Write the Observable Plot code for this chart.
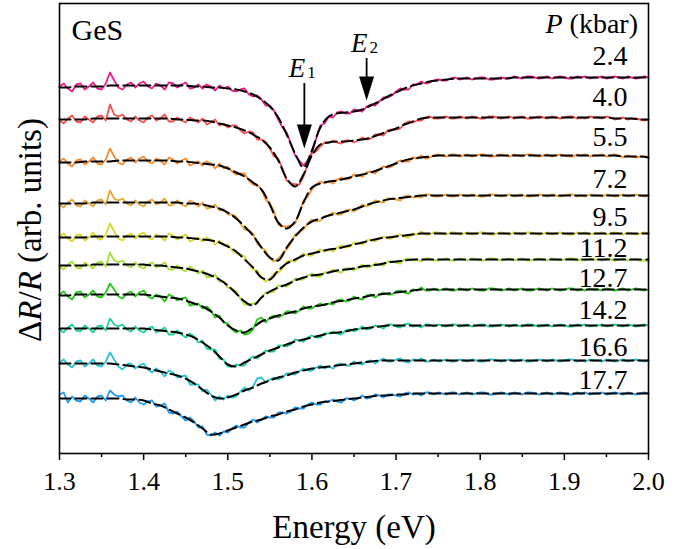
<!DOCTYPE html>
<html><head><meta charset="utf-8">
<script src="https://cdn.jsdelivr.net/npm/d3@7"></script>
<script src="https://cdn.jsdelivr.net/npm/@observablehq/plot@0.6"></script>
<style>html,body{margin:0;padding:0;background:#fff;} #chart svg{display:block;}</style>
</head><body><div id="chart"></div>
<script>
const FONT = "'Liberation Serif', 'DejaVu Serif', 'Noto Serif', 'Times New Roman', serif";

// energy grid of the fitted curves
const energy = [
1.30,1.31,1.32,1.33,1.34,1.35,1.36,1.37,1.38,1.39,
1.40,1.41,1.42,1.43,1.44,1.45,1.46,1.47,1.48,1.49,
1.50,1.51,1.52,1.53,1.54,1.55,1.56,1.57,1.58,1.59,
1.60,1.61,1.62,1.63,1.64,1.65,1.66,1.67,1.68,1.69,
1.70,1.71,1.72,1.73,1.74,1.75,1.76,1.77,1.78,1.79,
1.80,1.81,1.82,1.83,1.84,1.85,1.86,1.87,1.88,1.89,
1.90,1.91,1.92,1.93,1.94,1.95,1.96,1.97,1.98,1.99,
2.00];
// energy grid of the measured spectra
const expEnergy = [
1.300,1.305,1.310,1.315,1.320,1.325,1.330,1.335,1.340,1.345,1.350,1.355,1.360,1.365,1.370,1.375,1.380,1.385,1.390,1.395,
1.400,1.405,1.410,1.415,1.420,1.425,1.430,1.435,1.440,1.445,1.450,1.455,1.460,1.465,1.470,1.475,1.480,1.485,1.490,1.495,
1.500,1.505,1.510,1.515,1.520,1.525,1.530,1.535,1.540,1.545,1.550,1.555,1.560,1.565,1.570,1.575,1.580,1.585,1.590,1.595,
1.600,1.605,1.610,1.615,1.620,1.625,1.630,1.635,1.640,1.645,1.650,1.655,1.660,1.665,1.670,1.675,1.680,1.685,1.690,1.695,
1.700,1.705,1.710,1.715,1.720,1.725,1.730,1.735,1.740,1.745,1.750,1.755,1.760,1.765,1.770,1.775,1.780,1.785,1.790,1.795,
1.800,1.805,1.810,1.815,1.820,1.825,1.830,1.835,1.840,1.845,1.850,1.855,1.860,1.865,1.870,1.875,1.880,1.885,1.890,1.895,
1.900,1.905,1.910,1.915,1.920,1.925,1.930,1.935,1.940,1.945,1.950,1.955,1.960,1.965,1.970,1.975,1.980,1.985,1.990,1.995,
2.000];

const pressures = ["2.4","4.0","5.5","7.2","9.5","11.2","12.7","14.2","16.6","17.7"];
const colors = ["#EE1C8A","#F9504C","#F98A2E","#E9A735","#DCD52B","#A9DE3B","#26C81C","#1FD39B","#26C6D2","#1E9CF0"];
const offsets = [376, 336, 298, 258, 220, 194, 164, 128, 93, 60];
const labelLift = [13, 12, 10, 8, 8, 3, 3, 7, 5, 5];

const majorTicks = [1.3,1.4,1.5,1.6,1.7,1.8,1.9,2.0];
const minorTicks = [1.35,1.45,1.55,1.65,1.75,1.85,1.95];

const arrowNames = ["1","2"];
const arrowEnergy = [1.591, 1.665];
const arrowTop = [370, 395];
const arrowTip = [305, 353];

// measured spectra (ΔR/R, arb. units, relative to each curve's offset)
const exp24 = [
-9,-6,-11,-14,-7,-6,-12,-9,-5,-11,-12,-6,5,-3,-10,-12,-7,-5,-10,-6,
-4,-9,-11,-6,-8,-12,-5,-6,-10,-7,-5,-11,-10,-7,-11,-7,-9,-13,-8,-11,
-9,-13,-14,-12,-11,-17,-19,-18,-22,-28,-28,-33,-42,-50,-55,-66,-78,-83,-88,-83,
-75,-61,-48,-46,-39,-40,-35,-34,-36,-36,-32,-33,-34,-29,-27,-28,-24,-20,-20,-18,
-14,-11,-12,-12,-7,-7,-4,-6,-5,-3,-2,-3,-3,-1,0,-2,-1,0,-2,-1,
0,0,-2,-2,-1,0,-1,-1,1,0,-1,1,1,0,-1,0,1,-1,0,1,
0,-1,-1,1,0,1,-1,0,0,1,-1,0,1,0,-1,1,0,-1,0,1,
0];
const exp40 = [
-3,-6,-1,2,-4,-5,1,-2,-5,1,2,-3,13,3,1,3,-2,-4,1,-3,
-5,0,2,-3,-1,3,-4,-4,0,-3,-5,0,-2,-5,-1,-7,-5,-2,-8,-6,
-10,-8,-8,-13,-16,-14,-15,-22,-22,-24,-31,-39,-41,-51,-63,-66,-67,-67,-59,-47,
-36,-34,-29,-25,-25,-23,-25,-26,-23,-23,-25,-23,-20,-22,-21,-17,-17,-18,-13,-12,
-12,-11,-6,-4,-5,-3,-3,0,1,-1,-1,0,1,-1,-1,1,0,-1,1,0,
-1,-1,1,1,0,-1,0,1,-1,0,1,-1,-1,0,1,0,-1,1,0,-1,
0,1,1,-1,0,-1,1,0,0,-1,1,0,-2,-1,0,-2,-1,-1,-2,-3,
-2];
const exp55 = [
-6,-3,-8,-11,-5,-4,-9,-6,-2,-8,-9,-4,7,-1,-7,-9,-4,-2,-7,-3,
-1,-6,-8,-3,-5,-9,-2,-4,-8,-5,-3,-10,-8,-6,-10,-6,-8,-13,-8,-13,
-11,-16,-19,-18,-18,-25,-29,-29,-34,-44,-48,-56,-69,-71,-71,-70,-68,-57,-45,-41,
-34,-29,-26,-28,-26,-28,-24,-22,-24,-23,-19,-20,-21,-17,-16,-18,-14,-11,-12,-11,
-7,-5,-6,-6,-2,-3,0,-3,-2,0,1,0,-1,1,1,-1,0,1,-1,0,
1,1,-1,-1,0,1,0,-1,1,0,-1,1,1,0,-1,0,1,-1,0,1,
0,-1,-1,1,0,1,-1,0,0,1,-1,0,1,0,-2,0,-1,-2,-1,-1,
-2];
const exp72 = [
-9,-12,-7,-4,-10,-11,-5,-8,-11,-5,-4,-9,5,-3,-5,-3,-8,-10,-5,-9,
-11,-6,-4,-9,-7,-3,-10,-9,-5,-9,-11,-5,-7,-11,-7,-13,-12,-9,-15,-14,
-19,-19,-21,-28,-34,-35,-38,-48,-52,-55,-63,-66,-63,-58,-54,-48,-39,-37,-34,-28,
-24,-26,-25,-21,-20,-17,-19,-19,-15,-14,-16,-13,-9,-11,-9,-5,-6,-7,-3,-3,
-4,-5,-1,0,-2,-1,-2,1,1,-1,-1,0,1,-1,-1,1,0,-1,1,0,
-1,-1,1,1,0,-1,0,1,-1,0,1,-1,-1,0,1,0,-1,1,0,-1,
0,1,1,-1,0,-1,1,0,0,-1,1,0,-1,0,1,-1,0,1,0,-1,
0];
const exp95 = [
-3,0,-5,-8,-2,-1,-7,-4,1,-5,-6,-1,10,2,-5,-7,-2,0,-5,-1,
1,-4,-6,-1,-3,-7,0,-2,-6,-3,-1,-8,-6,-4,-8,-4,-6,-11,-7,-12,
-11,-17,-20,-21,-23,-31,-36,-37,-44,-48,-45,-40,-39,-35,-28,-27,-28,-24,-20,-22,
-22,-18,-16,-18,-16,-18,-14,-12,-14,-13,-9,-10,-11,-7,-6,-8,-5,-3,-5,-5,
-2,-1,-3,-4,0,-1,2,-1,-1,1,1,0,-1,1,1,-1,0,1,-1,0,
1,1,-1,-1,0,1,0,-1,1,0,-1,1,1,0,-1,0,1,-1,0,1,
0,-1,-1,1,0,1,-1,0,0,1,-1,0,1,0,-1,1,0,-1,0,1,
0];
const exp112 = [
-7,-10,-5,-2,-8,-9,-3,-6,-9,-3,-2,-7,7,-1,-3,-1,-6,-8,-3,-7,
-9,-5,-3,-8,-6,-3,-10,-10,-6,-10,-12,-7,-10,-14,-11,-18,-17,-15,-22,-22,
-28,-29,-32,-39,-45,-45,-44,-44,-38,-33,-33,-32,-26,-26,-27,-24,-19,-20,-20,-16,
-14,-17,-17,-13,-13,-10,-12,-13,-9,-9,-11,-8,-5,-8,-7,-4,-5,-6,-2,-2,
-3,-4,0,1,-1,0,-2,1,1,-1,-1,0,1,-1,-1,1,0,-1,1,0,
-1,-1,1,1,0,-1,0,1,-1,0,1,-1,-1,0,1,0,-1,1,0,-1,
0,1,1,-1,0,-1,1,0,0,-1,1,0,-1,0,1,-1,0,0,-1,-1,
-2];
const exp127 = [
-5,-2,-7,-10,-3,-2,-8,-5,-1,-7,-8,-3,6,0,-7,-9,-4,-2,-7,-3,
-1,-7,-9,-5,-7,-12,-5,-7,-11,-9,-8,-16,-15,-14,-19,-17,-21,-28,-26,-33,
-34,-40,-43,-41,-45,-44,-40,-30,-28,-33,-28,-26,-28,-26,-22,-22,-24,-21,-17,-19,
-19,-16,-14,-16,-14,-15,-11,-10,-12,-11,-7,-9,-10,-6,-5,-8,-5,-3,-5,-5,
-2,-1,-3,-4,0,-1,2,-1,-1,1,-1,0,1,-1,-1,1,0,-1,1,0,
-1,-1,1,1,0,-1,0,1,-1,0,1,-1,-1,0,1,0,-1,1,0,-1,
0,1,1,-1,0,-1,1,0,0,-1,1,0,-1,0,1,-1,0,1,0,-1,
0];
const exp142 = [
-4,-7,-2,1,-5,-6,0,-3,-7,-1,0,-5,7,1,-1,1,-4,-6,-1,-5,
-7,-3,-1,-7,-5,-2,-9,-9,-5,-9,-12,-8,-11,-17,-15,-23,-24,-24,-33,-34,
-41,-41,-39,-40,-40,-34,-31,-33,-29,-25,-26,-26,-20,-20,-21,-19,-14,-15,-16,-12,
-10,-12,-12,-8,-8,-6,-8,-9,-5,-4,-6,-4,-1,-4,-3,0,-1,-3,1,1,
-1,-2,1,2,-1,0,-2,1,1,-1,1,0,-1,1,1,-1,0,1,-1,0,
1,1,-1,-1,0,1,0,-1,1,0,-1,1,1,0,-1,0,1,-1,0,1,
0,-1,-1,1,0,1,-1,0,0,1,-1,0,1,0,-1,1,0,-1,0,1,
0];
const exp166 = [
-2,1,-4,-7,-1,0,-6,-3,1,-5,-6,-1,8,1,-6,-9,-4,-3,-8,-5,
-3,-9,-12,-8,-11,-16,-10,-12,-17,-16,-15,-24,-24,-24,-31,-29,-34,-40,-36,-39,
-35,-37,-36,-31,-27,-30,-26,-18,-17,-22,-19,-17,-19,-17,-13,-13,-14,-11,-8,-10,
-10,-7,-5,-8,-6,-8,-4,-3,-5,-5,-1,-3,-4,-1,0,-3,0,2,-1,-1,
1,2,-1,-2,1,0,2,-1,-1,1,-1,0,1,-1,-1,1,0,-1,1,0,
-1,-1,1,1,0,-1,0,1,-1,0,1,-1,-1,0,1,0,-1,1,0,-1,
0,1,1,-1,0,-1,1,0,0,-1,1,0,-1,0,1,-1,0,1,0,-1,
0];
const exp177 = [
-1,1,-9,-3,-7,-8,-2,-5,-9,-3,-2,-7,3,-1,-3,-2,-7,-9,-4,-9,
-11,-8,-7,-13,-12,-10,-19,-20,-18,-23,-27,-24,-28,-34,-33,-41,-42,-39,-42,-38,
-39,-35,-32,-34,-34,-29,-26,-29,-26,-23,-24,-24,-19,-19,-20,-18,-14,-15,-15,-11,
-9,-11,-11,-8,-8,-6,-8,-9,-5,-5,-7,-5,-2,-5,-4,-1,-2,-4,-1,-1,
-2,-3,0,1,-1,0,-2,1,1,-1,1,0,-1,1,1,-1,0,1,-1,0,
1,1,-1,-1,0,1,0,-1,1,0,-1,1,1,0,-1,0,1,-1,0,1,
0,-1,-1,1,0,1,-1,0,0,1,-1,0,1,0,-1,1,0,-1,0,1,
0];

// fitted line shapes
const fit24 = [
-10,-10,-9,-9,-9,-9,-8,-8,-8,-8,
-8,-8,-8,-8,-8,-8,-9,-9,-10,-10,
-11,-12,-14,-17,-22,-29,-40,-57,-76,-90,
-73,-50,-39,-36,-35,-34,-32,-28,-24,-19,
-15,-11,-8,-6,-4,-3,-2,-1,-1,-1,
-1,-1,-1,-1,0,0,0,0,0,0,
0,0,0,0,0,0,0,0,0,0,
0];
const fit40 = [
-2,-2,-2,-2,-1,-1,-1,-1,-1,-1,
-1,-1,-1,-1,-2,-2,-3,-3,-4,-6,
-8,-10,-13,-17,-22,-30,-43,-61,-69,-57,
-38,-27,-25,-24,-24,-23,-22,-20,-17,-14,
-11,-7,-4,-1,0,0,0,0,0,0,
0,0,0,0,0,0,0,0,0,0,
0,0,0,0,0,0,-1,-1,-1,-2,
-2];
const fit55 = [
-7,-7,-7,-6,-6,-6,-6,-5,-5,-5,
-5,-5,-5,-5,-6,-6,-7,-8,-9,-10,
-13,-17,-21,-27,-34,-49,-67,-73,-66,-47,
-32,-28,-26,-25,-23,-21,-19,-17,-14,-11,
-8,-5,-3,-2,-1,0,0,0,0,0,
0,0,0,0,0,0,0,0,0,0,
0,0,0,0,0,0,0,-1,-1,-1,
-2];
const fit72 = [
-8,-8,-8,-8,-7,-7,-7,-7,-7,-7,
-7,-7,-7,-7,-7,-8,-8,-9,-11,-13,
-17,-23,-31,-40,-52,-62,-65,-52,-41,-32,
-26,-23,-20,-18,-16,-14,-11,-8,-6,-4,
-3,-2,-1,0,0,0,0,0,0,0,
0,0,0,0,0,0,0,0,0,0,
0,0,0,0,0,0,0,0,0,0,
0];
const fit95 = [
-4,-4,-4,-4,-3,-3,-3,-3,-3,-3,
-3,-3,-3,-3,-4,-4,-5,-6,-7,-9,
-13,-18,-26,-34,-44,-46,-37,-30,-26,-22,
-20,-18,-16,-15,-13,-11,-9,-7,-5,-4,
-3,-2,-1,0,0,0,0,0,0,0,
0,0,0,0,0,0,0,0,0,0,
0,0,0,0,0,0,0,0,0,0,
0];
const fit112 = [
-6,-6,-6,-6,-5,-5,-5,-5,-5,-5,
-5,-6,-6,-7,-8,-9,-11,-13,-16,-20,
-26,-34,-42,-46,-38,-32,-28,-25,-21,-18,
-16,-15,-13,-11,-10,-9,-7,-6,-5,-3,
-2,-1,0,0,0,0,0,0,0,0,
0,0,0,0,0,0,0,0,0,0,
0,0,0,0,0,0,0,0,0,0,
0];
const fit127 = [
-6,-6,-5,-5,-5,-5,-5,-5,-5,-5,
-5,-6,-7,-8,-9,-11,-14,-17,-22,-28,
-36,-41,-43,-38,-32,-29,-26,-24,-22,-19,
-17,-16,-14,-12,-11,-9,-8,-6,-5,-4,
-3,-2,-1,0,0,0,0,0,0,0,
0,0,0,0,0,0,0,0,0,0,
0,0,0,0,0,0,0,0,0,0,
0];
const fit142 = [
-3,-3,-3,-3,-3,-3,-3,-3,-3,-3,
-3,-4,-5,-6,-7,-9,-12,-17,-23,-31,
-39,-41,-37,-33,-29,-25,-22,-19,-16,-14,
-12,-10,-8,-7,-6,-4,-3,-2,-1,0,
0,0,0,0,0,0,0,0,0,0,
0,0,0,0,0,0,0,0,0,0,
0,0,0,0,0,0,0,0,0,0,
0];
const fit166 = [
-3,-3,-3,-3,-3,-3,-3,-4,-5,-6,
-7,-9,-11,-13,-15,-18,-23,-29,-35,-38,
-37,-34,-30,-27,-23,-20,-17,-15,-12,-10,
-8,-7,-6,-5,-4,-3,-2,-1,0,0,
0,0,0,0,0,0,0,0,0,0,
0,0,0,0,0,0,0,0,0,0,
0,0,0,0,0,0,0,0,0,0,
0];
const fit177 = [
-5,-5,-5,-5,-5,-5,-5,-5,-6,-6,
-7,-10,-12,-16,-20,-24,-29,-35,-41,-40,
-37,-34,-31,-28,-26,-23,-21,-18,-16,-13,
-11,-9,-8,-7,-6,-5,-4,-3,-2,-2,
-1,-1,0,0,0,0,0,0,0,0,
0,0,0,0,0,0,0,0,0,0,
0,0,0,0,0,0,0,0,0,0,
0];

const expData = [exp24, exp40, exp55, exp72, exp95, exp112, exp127, exp142, exp166, exp177];
const fitData = [fit24, fit40, fit55, fit72, fit95, fit112, fit127, fit142, fit166, fit177];

// tables for the library
const expRows = [], fitRows = [];
pressures.forEach((p, i) => {
  expEnergy.forEach((e, j) => expRows.push({series: p, energy: e, value: offsets[i] + expData[i][j]}));
  energy.forEach((e, j) => fitRows.push({series: p, energy: e, value: offsets[i] + fitData[i][j]}));
});
const labelRows = pressures.map((p, i) => ({label: p, value: offsets[i] + labelLift[i]}));
const arrows = arrowNames.map((n, i) => ({name: n, energy: arrowEnergy[i], top: arrowTop[i], tip: arrowTip[i]}));

const headShape = {draw(ctx) { ctx.moveTo(0, 0); ctx.lineTo(-7.5, -24); ctx.lineTo(7.5, -24); ctx.closePath(); }};

const marks = [];
pressures.forEach((p, i) => {
  marks.push(Plot.line(expRows.filter(d => d.series === p), {x: "energy", y: "value", stroke: colors[i], strokeWidth: 1.8}));
});
marks.push(Plot.line(fitRows, {x: "energy", y: "value", z: "series", stroke: "black", strokeWidth: 2, strokeDasharray: "11,5", curve: "catmull-rom"}));
marks.push(Plot.frame({stroke: "black", strokeWidth: 1.6}));
marks.push(Plot.axisX({ticks: majorTicks, tickSize: 7, tickPadding: 11, tickFormat: d3.format(".1f"), fontSize: 26, strokeWidth: 1.5, label: null}));
marks.push(Plot.axisX({ticks: minorTicks, tickSize: 4, tickFormat: () => "", strokeWidth: 1.5, label: null}));
marks.push(Plot.text(labelRows, {frameAnchor: "right", y: "value", text: "label", textAnchor: "end", lineAnchor: "bottom", dx: -21, fontSize: 28}));
marks.push(Plot.ruleX(arrows, {x: "energy", y1: "top", y2: "tip", insetBottom: 10, stroke: "black", strokeWidth: 1.8}));
marks.push(Plot.dot(arrows, {x: "energy", y: "tip", symbol: headShape, fill: "black", stroke: "none"}));
marks.push(Plot.text(arrows, {x: "energy", y: "top", text: () => "E", fontStyle: "italic", fontSize: 27, textAnchor: "end", lineAnchor: "bottom", dx: 1, dy: -7}));
marks.push(Plot.text(arrows, {x: "energy", y: "top", text: "name", fontSize: 17, textAnchor: "start", lineAnchor: "bottom", dx: 3, dy: -6}));
marks.push(Plot.text(["GeS"], {frameAnchor: "top-left", text: d => d, textAnchor: "start", lineAnchor: "bottom", dx: 12, dy: 36, fontSize: 30}));
marks.push(Plot.text(["Energy (eV)"], {frameAnchor: "bottom", text: d => d, lineAnchor: "bottom", dy: 84, fontSize: 33}));

const chart = Plot.plot({
  width: 698, height: 549,
  marginLeft: 59, marginRight: 50, marginTop: 3, marginBottom: 96,
  x: {domain: [1.3, 2.0]},
  y: {domain: [0, 450], axis: null},
  style: {fontFamily: FONT, background: "white", color: "black", overflow: "visible"},
  marks
});

const svg = d3.select(chart);
const yl = svg.append("text")
  .attr("transform", "translate(41,230) rotate(-90)")
  .attr("text-anchor", "middle").attr("font-size", 33).attr("font-family", FONT).attr("fill", "black");
yl.append("tspan").text("Δ");
yl.append("tspan").attr("font-style", "italic").text("R");
yl.append("tspan").text("/");
yl.append("tspan").attr("font-style", "italic").text("R");
yl.append("tspan").text(" (arb. units)");

const pk = svg.append("text")
  .attr("x", 638).attr("y", 33).attr("text-anchor", "end")
  .attr("font-size", 28).attr("font-family", FONT).attr("fill", "black");
pk.append("tspan").attr("font-style", "italic").text("P");
pk.append("tspan").text(" (kbar)");

document.getElementById("chart").appendChild(chart);
</script>
</body></html>
